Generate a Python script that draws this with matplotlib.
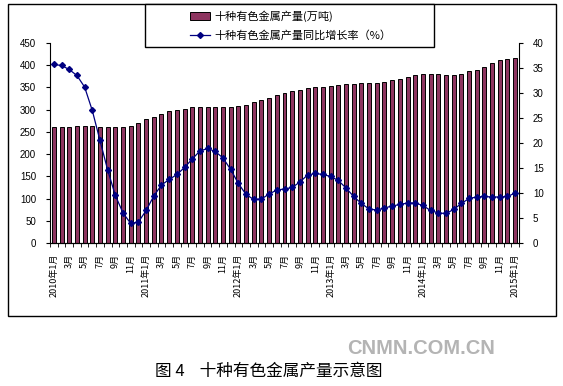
import matplotlib
matplotlib.use("Agg")
import matplotlib.pyplot as plt
from matplotlib.lines import Line2D
from matplotlib.patches import Patch, Rectangle
import numpy as np

plt.rcParams["font.family"] = ["Noto Sans CJK SC", "DejaVu Sans"]

# monthly data, 2010-01 .. 2015-01
output = [
    261, 261, 262, 263, 264, 264, 262, 260, 260, 260, 264, 269,
    278, 284, 291, 296, 299, 302, 305, 306, 306, 306, 306, 306,
    309, 311, 318, 322, 327, 333, 338, 341, 345, 348, 350, 352,
    354, 355, 357, 358, 360, 360, 361, 362, 366, 369, 373, 377,
    380, 381, 380, 378, 379, 381, 386, 390, 396, 404, 412, 414,
    416,
]
growth = [
    35.7, 35.5, 34.7, 33.5, 31.2, 26.5, 20.5, 14.6, 9.5, 6.0, 3.9, 4.2,
    6.5, 9.4, 11.6, 12.7, 13.7, 15.1, 16.8, 18.4, 18.9, 18.3, 17.0, 14.7,
    11.9, 9.7, 8.7, 8.8, 9.8, 10.6, 10.8, 11.1, 12.2, 13.6, 13.9, 13.7,
    13.3, 12.5, 11.0, 9.3, 7.9, 6.8, 6.6, 7.0, 7.4, 7.7, 8.0, 8.0,
    7.5, 6.5, 6.0, 5.9, 6.7, 7.9, 8.9, 9.2, 9.3, 9.2, 9.2, 9.3,
    10.0,
]
tick_labels = []
for year in range(2010, 2016):
    for month in range(1, 13, 2):
        tick_labels.append(f"{year}年1月" if month == 1 else f"{month}月")
tick_labels = tick_labels[:31]

bar_label = "十种有色金属产量(万吨)"
line_label = "十种有色金属产量同比增长率（%）"
caption = "图 4    十种有色金属产量示意图"

BAR_COLOR = "#8e3560"
LINE_COLOR = "#000080"

W, H = 563, 386
fig = plt.figure(figsize=(W / 100, H / 100), dpi=100)
fig.patch.set_facecolor("white")

# outer chart frame
fig.patches.append(Rectangle((8 / W, 1 - 316 / H), 548 / W, 312 / H,
                             transform=fig.transFigure, fill=False,
                             edgecolor="black", linewidth=1.0))

ax = fig.add_axes([50 / W, 1 - 243 / H, 469 / W, 200 / H])
x = np.arange(len(output))
ax.bar(x, output, width=0.52, color=BAR_COLOR, edgecolor="black", linewidth=0.7)
ax.set_xlim(-0.5, len(output) - 0.5)
ax.set_ylim(0, 450)
ax.set_yticks(range(0, 451, 50))
ax.spines["top"].set_visible(False)
ax.spines["right"].set_visible(False)
ax.tick_params(axis="y", labelsize=7, length=3, width=0.8, pad=7)
ax.set_xticks(x[::2])
ax.set_xticklabels(tick_labels, rotation=90, fontsize=6.5, va="top", ha="center")
ax.set_xticks(np.arange(-0.5, len(output), 1), minor=True)
ax.tick_params(axis="x", which="major", length=0, pad=8)
ax.tick_params(axis="x", which="minor", length=3, width=0.6)
for lab in ax.get_yticklabels():
    lab.set_family(["Liberation Sans", "DejaVu Sans"])

ax2 = ax.twinx()
ax2.plot(x, growth, color=LINE_COLOR, linewidth=0.9, marker="D", markersize=3)
ax2.set_ylim(0, 40)
ax2.set_yticks(range(0, 41, 5))
ax2.spines["top"].set_visible(False)
ax2.spines["left"].set_visible(False)
ax2.tick_params(axis="y", labelsize=7, length=3, width=0.8, pad=7)
for lab in ax2.get_yticklabels():
    lab.set_family(["Liberation Sans", "DejaVu Sans"])

# legend box drawn by hand so it spans the same width as the original
fig.patches.append(Rectangle((145 / W, 1 - 47 / H), 289 / W, 43 / H,
                             transform=fig.transFigure, facecolor="white",
                             edgecolor="black", linewidth=1.0, zorder=5))
handles = [
    Patch(facecolor=BAR_COLOR, edgecolor="black", linewidth=0.7),
    Line2D([], [], color=LINE_COLOR, linewidth=0.9, marker="D", markersize=3),
]
leg = fig.legend(handles, [bar_label, line_label], loc="center left",
                 bbox_to_anchor=(190 / W, 1 - 25.5 / H), fontsize=8,
                 frameon=False, borderpad=0, handlelength=1.8,
                 handleheight=0.7, handletextpad=0.4, labelspacing=0.75,
                 borderaxespad=0)
leg.set_zorder(6)

fig.text(155 / W, 1 - 371 / H, caption, fontsize=12, va="center", ha="left")
fig.text(421 / W, 1 - 348 / H, "CNMN.COM.CN", fontsize=14.5, fontweight="bold",
         color="#b4b4b4", va="center", ha="center",
         family=["Liberation Sans", "DejaVu Sans"])

fig.savefig("out.png", dpi=100)
